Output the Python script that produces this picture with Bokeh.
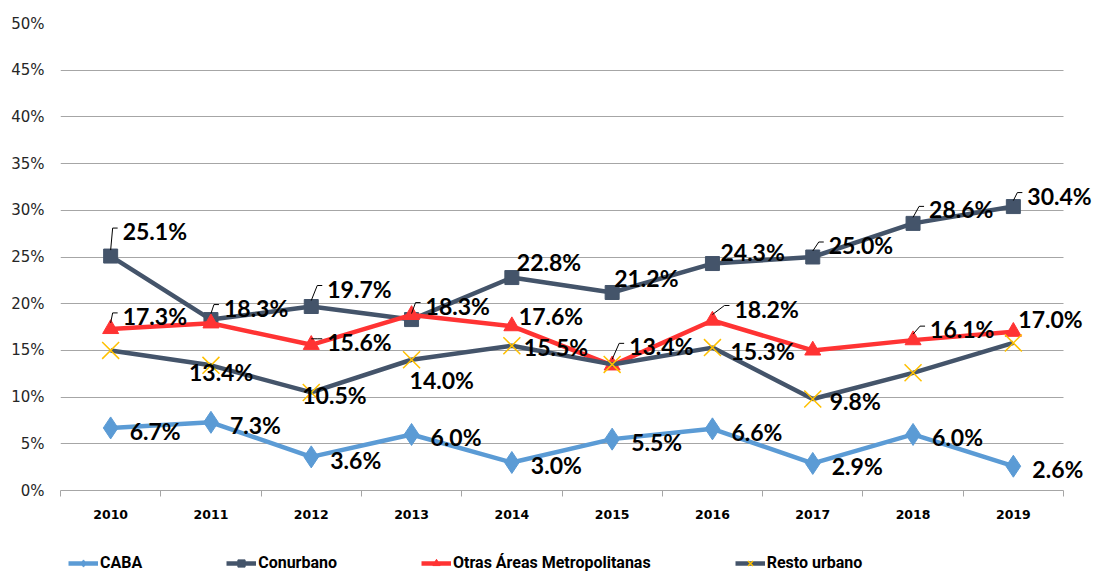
from bokeh.plotting import figure
from bokeh.layouts import column
from bokeh.models import (Range1d, FixedTicker, PrintfTickFormatter, Legend,
                          LegendItem, ColumnDataSource)
from bokeh.embed import file_html
from bokeh.resources import INLINE
from bokeh.core.properties import value

# ---------------- data ----------------
years = [2010, 2011, 2012, 2013, 2014, 2015, 2016, 2017, 2018, 2019]
caba = [6.7, 7.3, 3.6, 6.0, 3.0, 5.5, 6.6, 2.9, 6.0, 2.6]
conurbano = [25.1, 18.3, 19.7, 18.3, 22.8, 21.2, 24.3, 25.0, 28.6, 30.4]
otras = [17.3, 17.9, 15.6, 18.8, 17.6, 13.4, 18.2, 15.0, 16.1, 17.0]
resto = [15.0, 13.4, 10.5, 14.0, 15.5, 13.5, 15.3, 9.8, 12.6, 15.8]
series_names = ["CABA", "Conurbano", "Otras Áreas Metropolitanas", "Resto urbano"]
y_ticks = [0, 5, 10, 15, 20, 25, 30, 35, 40, 45, 50]

# which points carry a data label in the original
caba_shown = [1, 1, 1, 1, 1, 1, 1, 1, 1, 1]
conurbano_shown = [1, 1, 1, 1, 1, 1, 1, 1, 1, 1]
otras_shown = [1, 0, 1, 0, 1, 1, 1, 0, 1, 1]
resto_shown = [0, 1, 1, 1, 1, 0, 1, 1, 0, 0]

# ---------------- style (label placement in screen px, leader flags) ----------------
caba_off = [(19, 3)] * 10
conurbano_off = [(12, -25), (13, -12), (16, -18), (14, -14), (5, -16),
                 (2, -14), (8, -12), (16, -12), (16, -14), (14, -11)]
otras_off = [(12, -13), (0, 0), (16, -3), (0, 0), (7, -10),
             (17, -19), (22, -12), (0, 0), (17, -11), (5, -13)]
resto_off = [(0, 0), (-22, 7), (-9, 3), (-2, 20), (12, 1),
             (0, 0), (18, 3), (17, 2), (0, 0), (0, 0)]
conurbano_leader = [1, 1, 1, 1, 0, 0, 0, 1, 1, 1]
otras_leader = [1, 0, 1, 0, 0, 1, 1, 0, 1, 0]

C_CABA = "#5B9BD5"
C_CONU = "#44546A"
C_OTRAS = "#FF3333"
C_RESTO = "#44546A"
C_RESTO_M = "#FFC000"
GRID = "#A6A6A6"

W = 1100
H_MAIN, H_LEG = 548, 25
BL, BT = 60, 23
FRAME_BOTTOM = 490
PX_X = (1063 - 60) / 10.0          # pixels per category
XS = min(years) - 0.5
XB = max(years) + 0.5               # end of the category axis
XE = XS + (W - BL) / PX_X           # frame extends right so labels are not clipped
BB = H_MAIN - FRAME_BOTTOM

p = figure(width=W, height=H_MAIN, output_backend="svg", toolbar_location=None,
           x_range=Range1d(XS, XE), y_range=Range1d(0, 50),
           min_border_left=BL, min_border_right=0, min_border_top=BT,
           min_border_bottom=BB)
p.outline_line_color = None
p.background_fill_color = "white"
p.border_fill_color = "white"

px_y = (FRAME_BOTTOM - BT) / 50.0

# axes
xa = p.xaxis[0]
xa.ticker = FixedTicker(ticks=years, minor_ticks=[XS + i for i in range(len(years) + 1)])
xa.formatter = PrintfTickFormatter(format="%d")
xa.bounds = (XS, XB)
xa.major_tick_out = 0
xa.major_tick_in = 0
xa.minor_tick_out = 6
xa.minor_tick_in = 0
xa.minor_tick_line_color = GRID
xa.axis_line_color = GRID
xa.major_label_standoff = 13
xa.major_label_text_font = "DejaVu Sans"
xa.major_label_text_font_style = "bold"
xa.major_label_text_font_size = "12.5px"
xa.major_label_text_color = "#000000"

ya = p.yaxis[0]
ya.ticker = FixedTicker(ticks=y_ticks)
ya.formatter = PrintfTickFormatter(format="%d%%")
ya.axis_line_color = None
ya.major_tick_line_color = None
ya.minor_tick_line_color = None
ya.major_tick_out = 0
ya.major_label_standoff = 16
ya.major_label_text_font = "DejaVu Sans"
ya.major_label_text_font_size = "15px"
ya.major_label_text_color = "#262626"

p.xgrid.grid_line_color = None
yg = p.ygrid[0]
if "cross_bounds" in yg.properties():
    yg.ticker = FixedTicker(ticks=y_ticks)
    yg.cross_bounds = (XS, XB)
    yg.grid_line_color = GRID
    yg.grid_line_width = 1
else:
    yg.grid_line_color = None
    p.segment(x0=[XS] * len(y_ticks), y0=y_ticks, x1=[XB] * len(y_ticks), y1=y_ticks,
              line_color=GRID, line_width=1)

# series styles
line_styles = [dict(line_color=C_CABA, line_width=4.5),
               dict(line_color=C_CONU, line_width=4.5),
               dict(line_color=C_OTRAS, line_width=4.5),
               dict(line_color=C_RESTO, line_width=4.5)]
marker_styles = [dict(marker="diamond", size=22, fill_color=C_CABA, line_color=C_CABA),
                 dict(marker="square", size=14, fill_color=C_CONU, line_color=C_CONU),
                 dict(marker="triangle", size=16, fill_color=C_OTRAS, line_color=C_OTRAS),
                 dict(marker="x", size=24, line_color=C_RESTO_M, line_width=1.5)]

for vals, ls, ms in zip([caba, conurbano, otras, resto], line_styles, marker_styles):
    p.line(years, vals, **ls)
    p.scatter(years, vals, **ms)

# leader lines
lx, ly = [], []
for vals, offs, flags in [(conurbano, conurbano_off, conurbano_leader),
                          (otras, otras_off, otras_leader)]:
    for yr, v, (dx, dy), f in zip(years, vals, offs, flags):
        if not f:
            continue
        x0, y0 = yr, v + 6 / px_y
        x1, y1 = yr + (dx - 10) / PX_X, v - (dy - 3) / px_y
        x2, y2 = yr + (dx - 5) / PX_X, y1
        lx.append([x0, x1, x2])
        ly.append([y0, y1, y2])
p.multi_line(lx, ly, line_color="black", line_width=1)

# data labels
tx, ty, tt, txo, tyo = [], [], [], [], []
for vals, offs, shown in [(caba, caba_off, caba_shown),
                          (conurbano, conurbano_off, conurbano_shown),
                          (otras, otras_off, otras_shown),
                          (resto, resto_off, resto_shown)]:
    for yr, v, (dx, dy), s in zip(years, vals, offs, shown):
        if not s:
            continue
        tx.append(yr)
        ty.append(v)
        tt.append(f"{v:.1f}%")
        txo.append(dx)
        tyo.append(dy)
src = ColumnDataSource(dict(x=tx, y=ty, t=tt, xo=txo, yo=tyo))
p.text(x="x", y="y", text="t", x_offset="xo", y_offset="yo", source=src,
       text_font=value("Lato"), text_font_style="bold", text_font_size="23px",
       text_color="black", text_align="left", text_baseline="middle")

# ---------------- legend strip ----------------
lg_fig = figure(width=W, height=H_LEG, output_backend="svg", toolbar_location=None,
                x_range=Range1d(0, 1), y_range=Range1d(0, 1),
                x_axis_type=None, y_axis_type=None,
                min_border_left=0, min_border_right=0, min_border_top=0,
                min_border_bottom=0)
lg_fig.outline_line_color = None
lg_fig.xgrid.grid_line_color = None
lg_fig.ygrid.grid_line_color = None

items = []
for name, ls, ms in zip(series_names, line_styles, marker_styles):
    # proxy renderers placed outside the visible range; only their legend glyph shows
    rl = lg_fig.line([-5, -4], [-5, -5], **ls)
    ms2 = dict(ms)
    ms2["size"] = ms["size"] * 0.55
    rm = lg_fig.scatter([-5], [-5], **ms2)
    items.append(LegendItem(label=name, renderers=[rl, rm]))
lg = Legend(items=items, location=(8, 1), orientation="horizontal",
            label_text_font="Roboto", label_text_font_style="bold",
            label_text_font_size="16px", label_text_color="black",
            glyph_width=30, glyph_height=18, label_height=18, label_standoff=2,
            padding=0, margin=0, spacing=84, border_line_color=None,
            background_fill_alpha=0)
lg_fig.add_layout(lg, "center")

layout = column(p, lg_fig, spacing=0)
open("out.html", "w").write(file_html(layout, INLINE))
